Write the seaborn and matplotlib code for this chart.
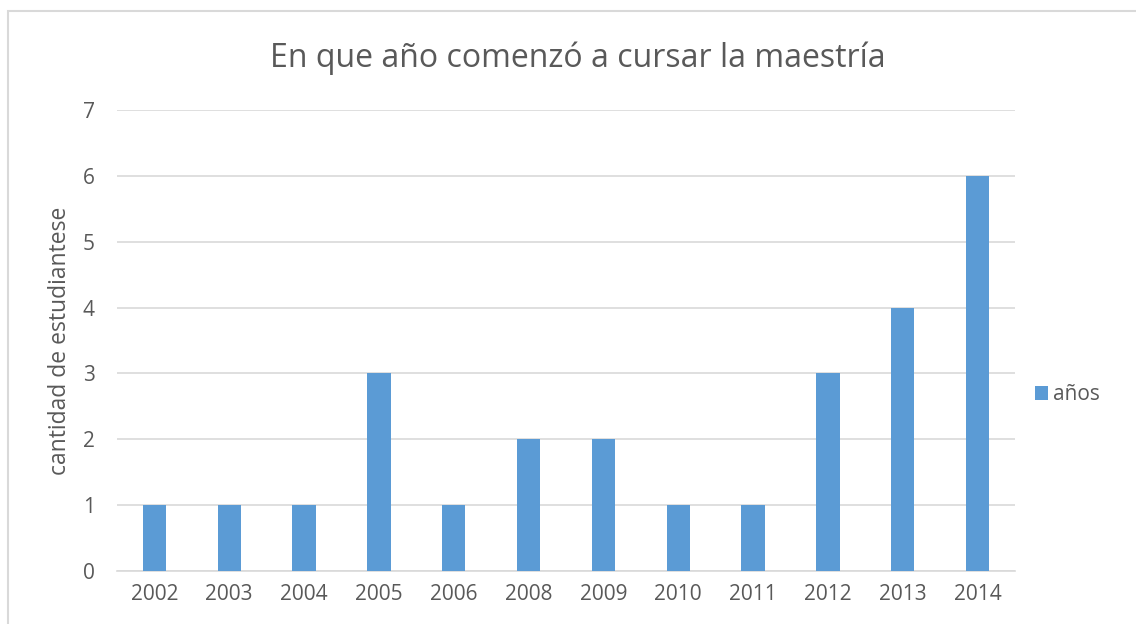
import numpy as np
import pandas as pd
import matplotlib
matplotlib.use('Agg')
import matplotlib.pyplot as plt
import seaborn as sns
from matplotlib.patches import Rectangle

# datos del grafico
anios = ['2002', '2003', '2004', '2005', '2006', '2008', '2009', '2010', '2011', '2012', '2013', '2014']
cantidad = [1, 1, 1, 3, 1, 2, 2, 1, 1, 3, 4, 6]
serie = 'años'

df = pd.DataFrame({'anio': anios, 'cantidad': cantidad, 'serie': serie})

sns.set_style('white')
plt.rcParams['font.family'] = ['Open Sans', 'DejaVu Sans']
gris = '#595959'

fig = plt.figure(figsize=(11.36, 6.24), dpi=100)
ax = fig.add_axes([117/1136, 1-571/624, (1015-117)/1136, (571-110)/624])

sns.barplot(data=df, x='anio', y='cantidad', hue='serie', palette=['#5B9BD5'],
            saturation=1, linewidth=0, width=0.31, ax=ax, zorder=3)

ax.set_ylim(0, 7)
ax.set_yticks(range(0, 8))
ax.set_xlim(-0.5, len(anios)-0.5)
ax.yaxis.grid(True, color='#D9D9D9', linewidth=1.2, zorder=0)
for s in ['top', 'right', 'left']:
    ax.spines[s].set_visible(False)
ax.spines['bottom'].set_color('#D9D9D9')
ax.spines['bottom'].set_linewidth(1.2)
ax.tick_params(axis='both', length=0, labelsize=15, labelcolor=gris)
ax.tick_params(axis='y', pad=16)
ax.tick_params(axis='x', pad=9)
ax.set_xlabel('')
ax.set_ylabel('cantidad de estudiantese', fontsize=16.5, color=gris, labelpad=8)

fig.text(578/1136, 1-58/624, 'En que año comenzó a cursar la maestría', ha='center', va='center',
         fontsize=23, color=gris)

ax.legend(loc='center left', bbox_to_anchor=(1016/1136, 1-395/624), bbox_transform=fig.transFigure,
          frameon=False, fontsize=15, labelcolor=gris, handlelength=0.65, handleheight=0.65,
          handletextpad=0.25)

fig.patches.append(Rectangle((8/1136, -0.05), 1.2, (624-11)/624+0.05, transform=fig.transFigure,
                             fill=False, edgecolor='#D9D9D9', linewidth=1.5))

plt.savefig('out.png', dpi=100)
